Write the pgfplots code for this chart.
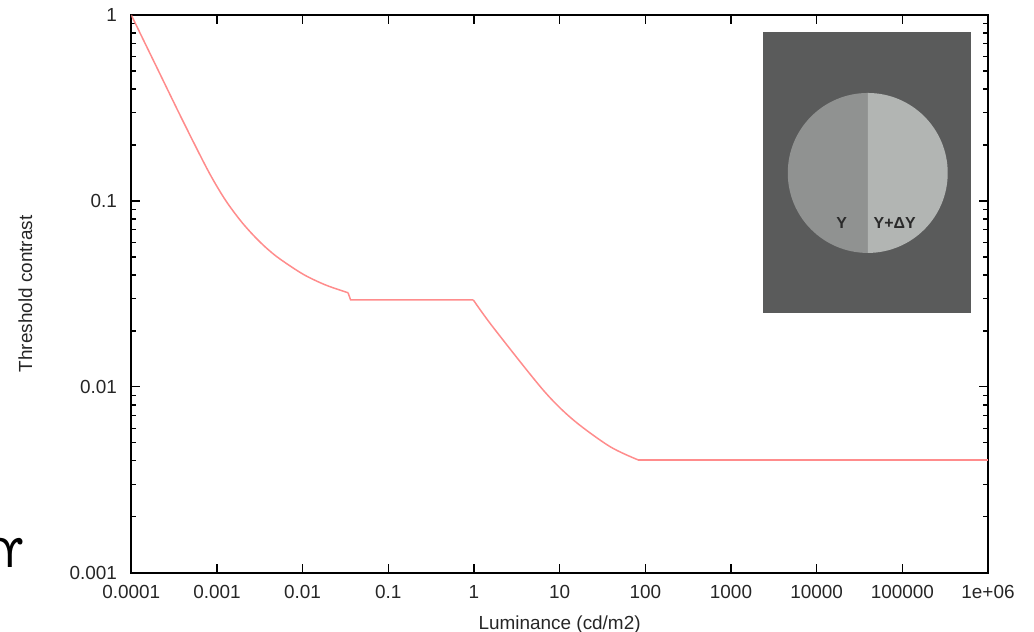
\documentclass[border=0pt]{standalone}
\usepackage{pgfplots}
\pgfplotsset{compat=1.18}
\usepackage{fontspec}
\setmainfont{Liberation Sans}
\newfontfamily\symfont{DejaVu Sans}
\usetikzlibrary{calc}

\definecolor{curve}{RGB}{255,140,140}
\definecolor{panel}{RGB}{90,91,91}
\definecolor{halfL}{RGB}{144,146,145}
\definecolor{halfR}{RGB}{178,181,179}
\definecolor{inktext}{RGB}{42,42,42}

\begin{document}
\begin{tikzpicture}
\begin{axis}[
    name=ax,
    xmode=log, ymode=log,
    scale only axis,
    width=428.5bp, height=279bp,
    xmin=1e-4, xmax=1e6, ymin=1e-3, ymax=1,
    xtick={1e-4,1e-3,0.01,0.1,1,10,100,1000,1e4,1e5,1e6},
    xticklabels={0.0001,0.001,0.01,0.1,1,10,100,1000,10000,100000,1e+06},
    ytick={0.001,0.01,0.1,1},
    yticklabels={0.001,0.01,0.1,1},
    xminorticks=false,
    tick align=inside,
    major tick length=4.5bp,
    minor tick length=2.5bp,
    axis line style={line width=0.8bp},
    tick style={black, line width=0.6bp},
    tick label style={font=\fontsize{9.5}{11}\selectfont, text=black!85},
    xticklabel style={anchor=base, yshift=-13bp},
    yticklabel style={anchor=east, inner sep=0pt, xshift=-7bp},
    xlabel={Luminance (cd/m2)},
    ylabel={Threshold contrast},
    label style={font=\fontsize{9.5}{11}\selectfont, text=black!85},
    xlabel style={at={(axis description cs:0.5,-0.102)}, anchor=base},
    ylabel style={at={(axis description cs:-0.1237,0.5)}, anchor=center},
]
% rod branch
\addplot[curve, line width=0.75bp, smooth] coordinates {
    (1e-4,1) (1.995e-4,0.5205) (3.981e-4,0.2710) (7.943e-4,0.1445)
    (1.259e-3,0.1009) (1.995e-3,0.0759) (3.162e-3,0.0603) (5.012e-3,0.0501)
    (0.01,0.0405) (0.01778,0.0356) (0.02818,0.0330) (0.0339,0.0321)
};
% plateau
\addplot[curve, line width=0.75bp] coordinates {
    (0.0339,0.0321) (0.0363,0.0294) (0.98,0.0294)
};
% cone branch
\addplot[curve, line width=0.75bp, smooth] coordinates {
    (0.98,0.0294) (1.676,0.0209) (6.41,0.00963) (14.4,0.00665)
    (38.5,0.00478) (82.4,0.00405)
};
\addplot[curve, line width=0.75bp] coordinates {
    (82.4,0.00405) (1e6,0.00405)
};
\end{axis}

% inset: the test field
\coordinate (o) at (ax.south west);
\fill[panel] ($(o)+(315.85bp,130bp)$) rectangle ($(o)+(419.85bp,270.5bp)$);
\coordinate (c) at ($(o)+(368.35bp,200bp)$);
\fill[halfL] ($(c)+(0,40bp)$) arc[start angle=90, end angle=270, radius=40bp] -- cycle;
\fill[halfR] ($(c)+(0,40bp)$) arc[start angle=90, end angle=-90, radius=40bp] -- cycle;
\node[font=\bfseries\fontsize{8}{9}\selectfont, text=inktext] at ($(o)+(355.35bp,175bp)$) {Y};
\node[font=\bfseries\fontsize{8}{9}\selectfont, text=inktext] at ($(o)+(381.85bp,175bp)$) {Y+ΔY};

\node[font=\symfont\fontsize{20}{22}\selectfont, inner sep=0pt] at ($(o)+(-60.2bp,10bp)$) {ϒ};

\pgfresetboundingbox
\path[use as bounding box] ($(ax.south west)+(-65.65bp,-29.5bp)$) rectangle ($(ax.north east)+(23bp,7.5bp)$);
\end{tikzpicture}
\end{document}
